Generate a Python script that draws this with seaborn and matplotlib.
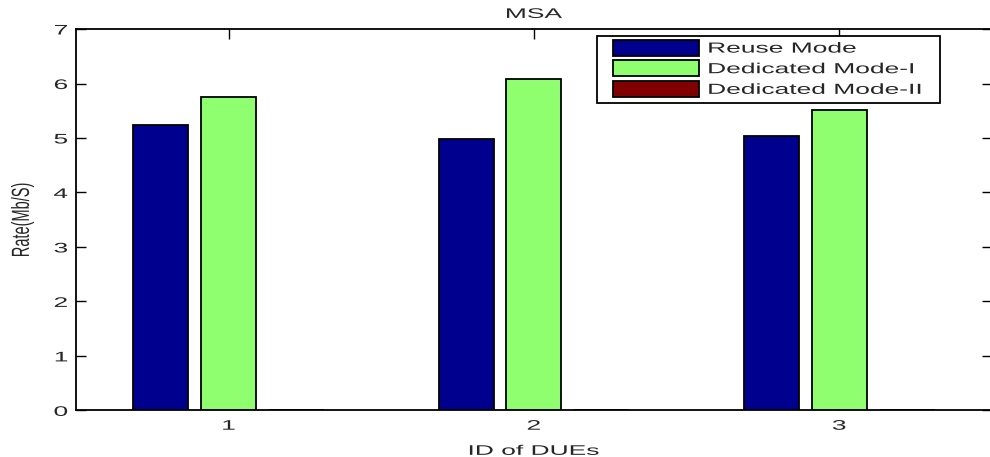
import matplotlib
matplotlib.use("Agg")
import matplotlib.pyplot as plt
import seaborn as sns
import pandas as pd
from matplotlib.patheffects import AbstractPathEffect
from matplotlib.transforms import Affine2D
from matplotlib.patches import Rectangle

# Rates per DUE for each transmission mode
due_ids = ["1", "2", "3"]
modes = ["Reuse Mode", "Dedicated Mode-I", "Dedicated Mode-II"]
reuse_rate = [5.24, 4.99, 5.04]
dedicated1_rate = [5.75, 6.08, 5.52]
dedicated2_rate = [0.0, 0.0, 0.0]
colors = ["#00008F", "#8FFF70", "#800000"]
yticks = [0, 1, 2, 3, 4, 5, 6, 7]


class Stretch(AbstractPathEffect):
    """Widen glyphs along the baseline (sx) or across it (sy)."""

    def __init__(self, sx=1.0, sy=1.0, anchor="center"):
        super().__init__()
        self.sx, self.sy, self.anchor = sx, sy, anchor

    def draw_path(self, renderer, gc, tpath, affine, rgbFace=None):
        ext = tpath.get_extents()
        if self.anchor == "left":
            cx = 0.0
        elif self.anchor == "right":
            cx = ext.x1
        else:
            cx = 0.5 * (ext.x0 + ext.x1)
        cy = 0.5 * (ext.y0 + ext.y1)
        t = (Affine2D().translate(-cx, -cy).scale(self.sx, self.sy)
             .translate(cx, cy) + affine)
        renderer.draw_path(gc, tpath, t, rgbFace)


SX = 1.9

df = pd.DataFrame({
    "due": due_ids * 3,
    "mode": [modes[0]] * 3 + [modes[1]] * 3 + [modes[2]] * 3,
    "rate": reuse_rate + dedicated1_rate + dedicated2_rate,
})

sns.set_style("white")
plt.rcParams["font.family"] = ["Liberation Sans", "DejaVu Sans"]

fig = plt.figure(figsize=(9.9, 4.57), dpi=100)
ax = fig.add_axes([0.0768, 0.102, 0.925, 0.8345])

sns.barplot(data=df, x="due", y="rate", hue="mode", hue_order=modes,
            palette=colors, width=0.667, gap=0.19, edgecolor="black",
            linewidth=1.3, saturation=1, errorbar=None, ax=ax)

ax.set_xlim(-0.5, 2.5)
ax.set_ylim(0, 7)
ax.set_yticks(yticks)
ax.set_yticklabels([str(v) for v in yticks], fontsize=10)
ax.tick_params(axis="x", labelsize=10)
ax.tick_params(direction="in", length=7, width=1, top=True, right=True,
               bottom=True, left=True, color="black", pad=6)
for s in ax.spines.values():
    s.set_visible(True)
    s.set_color("black")
    s.set_linewidth(1.3)

title = ax.set_title("MSA", fontsize=10, pad=8)
xlab = ax.set_xlabel("ID of DUEs", fontsize=10, labelpad=8)
ylab = ax.set_ylabel("Rate(Mb/S)", fontsize=10.5, labelpad=22)

title.set_path_effects([Stretch(sx=SX)])
xlab.set_path_effects([Stretch(sx=SX)])
ylab.set_path_effects([Stretch(sy=1.7)])
for t in ax.get_xticklabels():
    t.set_path_effects([Stretch(sx=SX)])
for t in ax.get_yticklabels():
    t.set_path_effects([Stretch(sx=SX, anchor="right")])

# Legend entries, with a separately drawn box around them
handles, labels = ax.get_legend_handles_labels()
leg = ax.legend(handles, labels, loc="upper left",
                bbox_to_anchor=(0.586, 0.972), borderaxespad=0,
                fontsize=10, handlelength=6.2, handleheight=1.4,
                handletextpad=0.6, labelspacing=0.33, borderpad=0,
                frameon=False)
for t in leg.get_texts():
    t.set_path_effects([Stretch(sx=SX, sy=1.05, anchor="left")])

ax.add_patch(Rectangle((0.5685, 0.806), 0.943 - 0.5685, 0.9824 - 0.806,
                       transform=ax.transAxes, facecolor="white",
                       edgecolor="black", linewidth=1.3, zorder=4.5,
                       clip_on=False))

fig.savefig("out.png", dpi=100)
